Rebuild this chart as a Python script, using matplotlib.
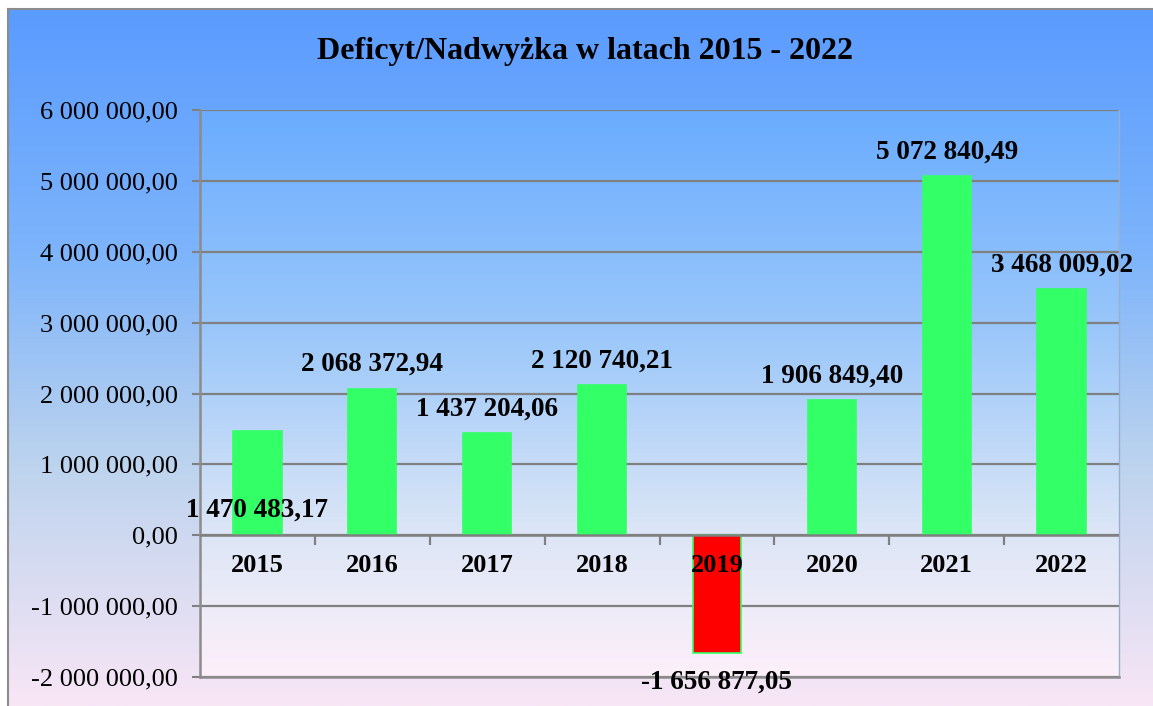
import numpy as np
import matplotlib
matplotlib.use("Agg")
import matplotlib.pyplot as plt
from matplotlib.colors import LinearSegmentedColormap

years = ["2015", "2016", "2017", "2018", "2019", "2020", "2021", "2022"]
values = [1470483.17, 2068372.94, 1437204.06, 2120740.21, -1656877.05,
          1906849.40, 5072840.49, 3468009.02]
label_texts = ["1 470 483,17", "2 068 372,94", "1 437 204,06", "2 120 740,21",
               "-1 656 877,05", "1 906 849,40", "5 072 840,49", "3 468 009,02"]
yticks = [-2000000, -1000000, 0, 1000000, 2000000, 3000000, 4000000, 5000000, 6000000]
ytick_labels = ["-2 000 000,00", "-1 000 000,00", "0,00", "1 000 000,00", "2 000 000,00",
                "3 000 000,00", "4 000 000,00", "5 000 000,00", "6 000 000,00"]
title = "Deficyt/Nadwyżka w latach 2015 - 2022"

plt.rcParams['font.family'] = ['Liberation Serif', 'DejaVu Serif']

W, H = 1153, 706
fig = plt.figure(figsize=(W / 100, H / 100), dpi=100)
fig.patch.set_facecolor("white")

# figure background gradient
bg = fig.add_axes([8 / W, 0, 1 - 8 / W, 1 - 9 / H])
bg_cmap = LinearSegmentedColormap.from_list(
    "bg", [(0.0, "#5a9bff"), (0.35, "#7db4fb"), (0.65, "#bcd3ee"), (1.0, "#f8e6f6")])
grad = np.linspace(0, 1, 256).reshape(-1, 1)
bg.imshow(grad, aspect="auto", cmap=bg_cmap, extent=[0, 1, 0, 1], origin="upper")
bg.set_xlim(0, 1)
bg.set_ylim(0, 1)
bg.set_xticks([])
bg.set_yticks([])
for s in bg.spines.values():
    s.set_color("#8c8c8c")
    s.set_linewidth(1.5)
bg.spines["right"].set_visible(False)
bg.spines["bottom"].set_visible(False)

# main axes
x0, x1 = 200 / W, 1119 / W
y0, y1 = 1 - 677 / H, 1 - 110 / H
ax = fig.add_axes([x0, y0, x1 - x0, y1 - y0])
ax.set_facecolor("none")
ax.set_ylim(-2000000, 6000000)
ax.set_xlim(-0.5, len(years) - 0.5)

pa_cmap = LinearSegmentedColormap.from_list(
    "pa", [(0.0, "#6aacff"), (0.4, "#9cc8fa"), (0.75, "#dde6f6"), (1.0, "#fdf0fa")])
ax.imshow(grad, aspect="auto", cmap=pa_cmap,
          extent=[-0.5, len(years) - 0.5, -2000000, 6000000], origin="upper", zorder=0)

ax.set_yticks(yticks)
ax.set_yticklabels(ytick_labels, fontsize=19)
ax.yaxis.grid(True, color="#808080", linewidth=1.6, zorder=1)
ax.tick_params(axis="y", length=6, color="#808080", width=1.5, pad=10)
ax.set_xticks([])

for side in ["left", "bottom"]:
    ax.spines[side].set_color("#8c8c8c")
    ax.spines[side].set_linewidth(1.8)
ax.spines["top"].set_visible(False)
ax.spines["right"].set_color("#9aaed0")
ax.spines["right"].set_linewidth(1.0)

xs = np.arange(len(years))
colors = ["#ff0000" if v < 0 else "#33ff66" for v in values]
ax.bar(xs, values, width=0.42, color=colors, edgecolor="#33ff66", linewidth=1.2, zorder=3)

# zero axis with category boundary ticks
ax.axhline(0, color="#808080", linewidth=1.8, zorder=4)
bounds = np.arange(0.5, len(years) - 0.5, 1.0)
ax.plot(bounds, np.zeros_like(bounds), linestyle="none", marker=3, markersize=7,
        markeredgecolor="#808080", markeredgewidth=1.6, zorder=4)

for i, y in enumerate(years):
    ax.annotate(y, (i, 0), xytext=(0, -30), textcoords="offset pixels",
                ha="center", va="center", fontsize=19, fontweight="bold", zorder=5)

for i, (v, t) in enumerate(zip(values, label_texts)):
    if v < 0:
        off = -29
        ref = v
    elif i == 0:
        off = 25
        ref = 0
    else:
        off = 24
        ref = v
    ax.annotate(t, (i, ref), xytext=(0, off), textcoords="offset pixels",
                ha="center", va="center", fontsize=19.5, fontweight="bold", zorder=6)

fig.text(585 / W, 1 - 51 / H, title, ha="center", va="center",
         fontsize=23, fontweight="bold")

fig.savefig("out.png", dpi=100)
